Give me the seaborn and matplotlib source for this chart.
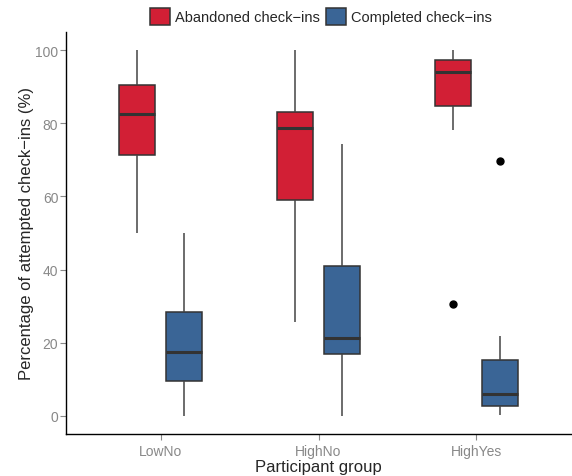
import numpy as np
import pandas as pd
import matplotlib
matplotlib.use("Agg")
import matplotlib.pyplot as plt
import seaborn as sns

groups = ["LowNo", "HighNo", "HighYes"]
series = ["Abandoned check\u2212ins", "Completed check\u2212ins"]

# five-number summaries, (group, series) order
lows    = [50.0, 0.0, 25.7, 0.0, 78.1, 0.3]
q1s     = [71.3, 9.6, 59.0, 17.0, 84.7, 2.7]
medians = [82.5, 17.5, 78.7, 21.3, 94.0, 6.0]
q3s     = [90.4, 28.4, 83.0, 41.0, 97.3, 15.3]
highs   = [100.0, 50.0, 100.0, 74.3, 100.0, 21.9]
outliers = [None, None, None, None, 30.5, 69.7]

rows = []
i = 0
for g in groups:
    for s in series:
        vals = [lows[i]] + [q1s[i]] * 3 + [medians[i]] * 3 + [q3s[i]] * 3 + [highs[i]]
        if outliers[i] is not None:
            vals.append(outliers[i])
        for v in vals:
            rows.append({"group": g, "series": s, "value": v})
        i += 1
df = pd.DataFrame(rows)

sns.set_style("white")
plt.rcParams["font.family"] = ["Liberation Sans", "DejaVu Sans"]

fig = plt.figure(figsize=(5.72, 4.77), dpi=100)
ax = fig.add_axes([0.1154, 0.088, 0.883, 0.843])

sns.boxplot(data=df, x="group", y="value", hue="series", order=groups,
            hue_order=series, palette=["#D21F35", "#3A6596"], saturation=1,
            width=0.6, gap=0.24, linewidth=1.1, linecolor="#333333",
            medianprops={"linewidth": 2.2, "color": "#333333"},
            whiskerprops={"color": "#444444"},
            capprops={"linewidth": 0},
            flierprops={"marker": "o", "markersize": 5, "markerfacecolor": "black",
                        "markeredgecolor": "black"},
            ax=ax)

ax.set_xlim(-0.6, 2.6)
ax.set_ylim(-5, 105)
ax.set_yticks([0, 20, 40, 60, 80, 100])
ax.set_xlabel("Participant group", fontsize=12, labelpad=1)
ax.set_ylabel("Percentage of attempted check\u2212ins (%)", fontsize=12, labelpad=1)
ax.tick_params(axis="both", colors="#888888", labelsize=10, length=4, width=0.8,
               left=True, bottom=True, labelcolor="#888888")
ax.tick_params(axis="y", pad=1.5)
ax.tick_params(axis="x", pad=3)
for side in ["top", "right"]:
    ax.spines[side].set_visible(False)
for side in ["left", "bottom"]:
    ax.spines[side].set_color("black")
    ax.spines[side].set_linewidth(1.0)

sns.move_legend(ax, "lower center", bbox_to_anchor=(0.505, 1.0), ncol=2, title=None,
                frameon=False, fontsize=10.5, handlelength=1.35, handleheight=1.4,
                handletextpad=0.35, columnspacing=0.4, borderaxespad=0.1)

fig.savefig("out.png", dpi=100)
